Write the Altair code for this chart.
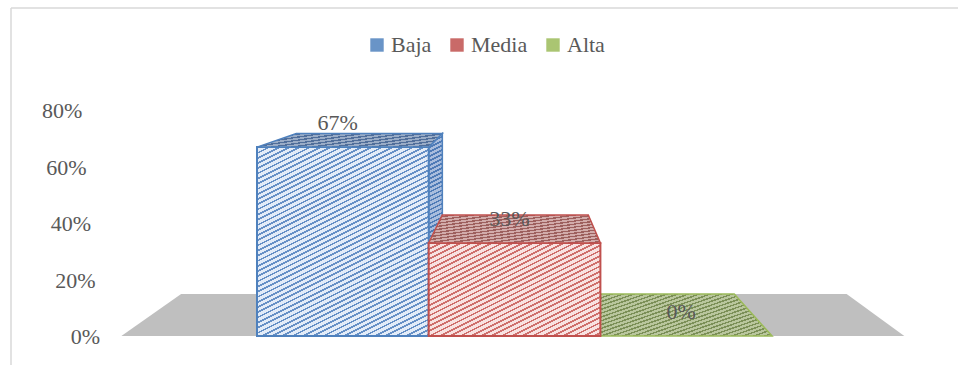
import math
import altair as alt
import pandas as pd

# ---------------- data ----------------
categories = ["Baja", "Media", "Alta"]
values = [67, 33, 0]
tick_values = [0, 20, 40, 60, 80]

# ---------------- styles ----------------
strong_colors = ["#4f81bd", "#c0504d", "#9bbb59"]
front_base = ["#e3ecf8", "#f8e2e1", "#eef3e2"]
front_stripe = ["#6690c6", "#cf6f6c", "#9fba66"]
top_base = ["#9aacc6", "#d2abaa", "#b9c69d"]
top_stripe = ["#506e9a", "#9d5f5d", "#7b8f57"]
side_base = ["#a9bddd", "#e8b9b8", "#c9d8a9"]
side_stripe = ["#4f7bb6", "#b0504d", "#86a24c"]
text_color = "#595959"
font = "Liberation Serif"

# ---------------- layout ----------------
W, H = 947, 357
PAD_L, PAD_T = 11, 8
X_DOMAIN = [-1.9327, 3.5827]
Y_DOMAIN = [-10.29, 116.35]
SX = W / (X_DOMAIN[1] - X_DOMAIN[0])
SY = H / (Y_DOMAIN[1] - Y_DOMAIN[0])
VX, VY, T = 1.03, 99.3, 0.15        # vanishing point and depth (3-D look)
FLOOR_L, FLOOR_R = -1.29, 3.27
HALF = 0.5
TICK_X0, TICK_LEAN = -1.414, -0.0013

xs = alt.Scale(domain=X_DOMAIN, nice=False, zero=False)
ys = alt.Scale(domain=Y_DOMAIN, nice=False, zero=False)


def back(px, py):
    return px + T * (VX - px), py + T * (VY - py)


def stripes(w, h, base, stripe, slope, spacing, frac):
    a = slope / h
    b = 1.0 / w
    k = (a + b) / (a * a + b * b)
    L = (w * slope + h) / math.sqrt(1 + slope * slope)
    n = max(1.0, L / spacing)
    stops = []
    i = 0
    while i < n:
        o0 = min(1.0, i / n)
        o1 = min(1.0, (i + frac) / n)
        o2 = min(1.0, (i + 1) / n)
        stops += [
            {"offset": o0, "color": stripe},
            {"offset": o1, "color": stripe},
            {"offset": o1, "color": base},
            {"offset": o2, "color": base},
        ]
        i += 1
    return alt.Gradient(gradient="linear", x1=0, y1=0, x2=k * a, y2=k * b,
                        stops=[alt.GradientStop(**s) for s in stops])


def X(f):
    return alt.X(f, type="quantitative", scale=xs, axis=None)


def Y(f):
    return alt.Y(f, type="quantitative", scale=ys, axis=None)


layers = []

# legend carrier (fully covered by the faces drawn later)
front_df = pd.DataFrame({
    "cat": categories,
    "x": [i - HALF for i in range(len(categories))],
    "x2": [i + HALF for i in range(len(categories))],
    "y": [0] * len(categories),
    "y2": values,
})
layers.append(
    alt.Chart(front_df).mark_rect().encode(
        x=X("x"), x2="x2", y=Y("y"), y2="y2",
        color=alt.Color("cat:N", scale=alt.Scale(domain=categories, range=strong_colors),
                        legend=alt.Legend(title=None, orient="none", legendX=355, legendY=26,
                                          direction="horizontal", symbolType="square",
                                          symbolSize=180, symbolOpacity=0.85,
                                          symbolStrokeWidth=0, labelFont=font,
                                          labelFontSize=22, labelColor=text_color,
                                          columnPadding=14, labelOffset=3, padding=0))
    )
)

# floor
fy = T * VY
fl_b, _ = back(FLOOR_L, 0)
fr_b, _ = back(FLOOR_R, 0)
floor_df = pd.DataFrame({"y": [0, fy], "x": [FLOOR_L, fl_b], "x2": [FLOOR_R, fr_b]})
layers.append(
    alt.Chart(floor_df).mark_area(orient="horizontal", color="#bfbfbf").encode(
        y=Y("y"), x=X("x"), x2="x2")
)

# bars, painter's order (farthest from the vanishing column first)
order = sorted(range(len(categories)), key=lambda i: -abs(i - VX))
for i in order:
    v = values[i]
    c = categories[i]
    xl, xr = i - HALF, i + HALF
    # side face
    side_x = None
    if xr < VX:
        side_x = xr
    elif xl > VX:
        side_x = xl
    if side_x is not None and v > 0:
        bx, by0 = back(side_x, 0)
        _, byv = back(side_x, v)
        sdf = pd.DataFrame({"cat": [c, c], "x": [side_x, bx], "y": [0, by0], "y2": [v, byv]})
        w = abs(bx - side_x) * SX
        h = byv * SY
        layers.append(
            alt.Chart(sdf).mark_area(
                orient="vertical",
                fill=stripes(w, h, side_base[i], side_stripe[i], 0.5, 4.0, 0.4),
                stroke=strong_colors[i], strokeWidth=1.5,
            ).encode(x=X("x"), y=Y("y"), y2="y2")
        )
    # front face
    if v > 0:
        fdf = front_df[front_df["cat"] == c]
        layers.append(
            alt.Chart(fdf).mark_rect(
                fill=stripes(SX, v * SY, front_base[i], front_stripe[i], 0.5, 4.6, 0.36),
                stroke=strong_colors[i], strokeWidth=2,
            ).encode(x=X("x"), x2="x2", y=Y("y"), y2="y2")
        )
    # top face
    blx, by = back(xl, v)
    brx, _ = back(xr, v)
    tdf = pd.DataFrame({"cat": [c, c], "y": [v, by], "x": [xl, blx], "x2": [xr, brx]})
    w = (max(xr, brx) - min(xl, blx)) * SX
    h = (by - v) * SY
    if v > 0:
        g = stripes(w, h, top_base[i], top_stripe[i], 0.15, 3.0, 0.45)
    else:
        g = stripes(w, h, top_base[i], top_stripe[i], 0.35, 3.6, 0.4)
    layers.append(
        alt.Chart(tdf).mark_area(
            orient="horizontal", fill=g, stroke=strong_colors[i], strokeWidth=1.5,
        ).encode(y=Y("y"), x=X("x"), x2="x2")
    )

# data labels
label_df = pd.DataFrame({
    "x": [i - 0.03 for i in range(len(categories))],
    "y": values,
    "t": [f"{v}%" for v in values],
})
layers.append(
    alt.Chart(label_df).mark_text(font=font, fontSize=22, color=text_color,
                                  baseline="middle", align="center", dy=-24).encode(
        x=X("x"), y=Y("y"), text="t:N")
)

# value axis labels (slanted 3-D axis)
tick_df = pd.DataFrame({
    "v": tick_values,
    "x": [TICK_X0 + TICK_LEAN * v for v in tick_values],
    "t": [f"{v}%" for v in tick_values],
})
layers.append(
    alt.Chart(tick_df).mark_text(font=font, fontSize=22, color=text_color,
                                 baseline="middle", align="right", dy=1).encode(
        x=X("x"), y=Y("v"), text="t:N")
)

# chart frame (left and top edges visible)
one = pd.DataFrame({"k": [0]})
layers.append(alt.Chart(one).mark_rule(color="#d9d9d9", strokeWidth=1.5).encode(
    x=alt.value(0), y=alt.value(0), y2=alt.value(H)))
layers.append(alt.Chart(one).mark_rule(color="#d9d9d9", strokeWidth=1.5).encode(
    x=alt.value(0), x2=alt.value(W), y=alt.value(0)))

chart = alt.layer(*layers).properties(
    width=W, height=H,
    padding={"left": PAD_L, "top": PAD_T, "right": 0, "bottom": 0},
    autosize="none",
).configure_view(stroke=None)

chart.save("out.html", embed_options={"renderer": "svg", "actions": False})
